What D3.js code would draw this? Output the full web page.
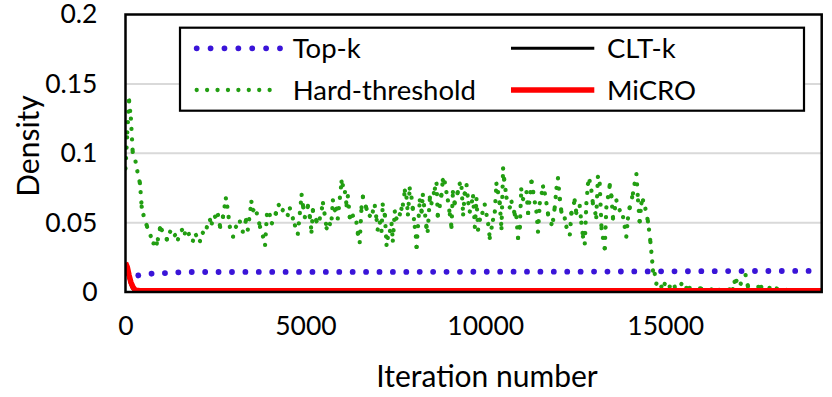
<!DOCTYPE html>
<html><head><meta charset="utf-8">
<script src="https://cdn.jsdelivr.net/npm/d3@7"></script>
<style>body{margin:0;background:#fff} text{font-family:Lato, "Open Sans", sans-serif; fill:#000}</style>
</head><body><svg id="c" width="832" height="397"></svg>
<script>
// ---------- data ----------
const xTicks = [0, 5000, 10000, 15000];
const yTicks = [0, 0.05, 0.1, 0.15, 0.2];
const yTickLabels = ["0", "0.05", "0.1", "0.15", "0.2"];
const xTitle = "Iteration number";
const yTitle = "Density";
const seriesNames = ["Top-k", "CLT-k", "Hard-threshold", "MiCRO"];

const topkIter = [0, 80, 260, 600, 960, 1300, 1700, 2500, 5000, 8000, 10000, 13000, 15000, 17000, 19350];
const topkVal  = [0.0139, 0.013, 0.0115, 0.013, 0.0135, 0.0139, 0.0144, 0.0144, 0.0145, 0.0145, 0.0146, 0.0147, 0.0149, 0.0151, 0.0152];

const cltIter = [0, 50, 100, 150, 200, 250, 300, 400, 19350];
const cltVal  = [0.02, 0.016, 0.011, 0.006, 0.003, 0.0015, 0.0008, 0.0005, 0.0005];

const microIter = [0, 50, 100, 150, 200, 250, 300, 400, 19350];
const microVal  = [0.021, 0.018, 0.012, 0.007, 0.004, 0.002, 0.0012, 0.0009, 0.0009];

const hardIter = [0,50,100,150,200,280,330,400,420,450,500,600,700,780,870,900,960,1010,1150,1240,1375,1460,1570,1650,1760,1875,1960,2070,2150,2260,2350,2400,2490,2570,2630,2710,2790,2830,2900,2990,3070,3180,3260,3350,3400,3500,3550,3650,3740,3820,3880,3930,4010,4070,4180,4260,4370,4510,4570,4710,4790,4895,4940,4985,5070,5125,5170,5210,5310,5400,5490,5590,5680,5730,5765,5820,5865,5900,6005,6040,6100,6145,6180,6235,6320,6420,6460,6510,6560,6600,6700,6790,6875,6930,6980,7010,7070,7115,7150,7210,7255,7290,7350,7395,7430,7485,7530,7625,7670,7710,7765,7810,7850,7900,7950,7985,8040,8070,8090,8180,8230,8265,8365,8400,8460,8505,8600,8645,8680,8735,8780,8820,8875,8920,8960,9015,9060,9100,9150,9235,9290,9340,9385,9430,9480,9530,9570,9660,9710,9755,9800,9850,9920,9985,10080,10125,10215,10265,10310,10355,10400,10450,10495,10525,10590,10680,10730,10820,10865,10910,10960,11000,11050,11145,11190,11285,11330,11420,11465,11515,11605,11655,11700,11745,11840,11885,11930,11980,12020,12070,12115,12210,12255,12350,12395,12485,12530,12625,12670,12715,12765,12810,12855,12900,12950,12990,13085,13130,13180,13230,13270,13320,13365,13460,13505,13550,13645,13735,13830,13875,13920,13965,14015,14105,14150,14200,14245,14290,14340,14385,14450,14520,14550,14590,14615,14640,14660,14710,14755,14895,14985,15125,15265,15450,15590,15680,16000,16500,16880,16930,16980,17100,17235,17300,17670,17900,18100,18500,19000,19350];
const hardVal = [0.089,0.115,0.138,0.125,0.101,0.094,0.087,0.0785,0.072,0.0615,0.0555,0.047,0.0404,0.035,0.035,0.038,0.0459,0.0447,0.038,0.0434,0.041,0.038,0.0447,0.0423,0.0418,0.037,0.041,0.0368,0.0427,0.0466,0.0519,0.0495,0.0543,0.0555,0.047,0.0543,0.0675,0.0615,0.047,0.0399,0.047,0.0507,0.0435,0.0519,0.045,0.065,0.059,0.0567,0.047,0.040,0.034,0.0555,0.0555,0.0495,0.0567,0.0627,0.059,0.0555,0.0603,0.048,0.042,0.070,0.061,0.054,0.062,0.054,0.0435,0.059,0.051,0.053,0.064,0.046,0.049,0.053,0.066,0.059,0.060,0.053,0.0795,0.077,0.072,0.0625,0.069,0.054,0.055,0.050,0.042,0.036,0.061,0.0687,0.060,0.055,0.058,0.062,0.052,0.045,0.050,0.044,0.063,0.055,0.034,0.039,0.044,0.049,0.037,0.058,0.053,0.056,0.060,0.063,0.073,0.068,0.056,0.0746,0.068,0.060,0.047,0.040,0.0325,0.066,0.058,0.070,0.047,0.044,0.068,0.064,0.0745,0.078,0.055,0.062,0.070,0.0807,0.079,0.072,0.066,0.056,0.047,0.072,0.064,0.072,0.078,0.075,0.056,0.071,0.077,0.064,0.058,0.069,0.047,0.067,0.045,0.052,0.057,0.063,0.049,0.039,0.052,0.058,0.078,0.072,0.064,0.046,0.089,0.081,0.068,0.061,0.065,0.056,0.054,0.039,0.047,0.074,0.067,0.072,0.057,0.0795,0.072,0.058,0.0435,0.064,0.076,0.071,0.064,0.056,0.049,0.052,0.061,0.075,0.082,0.067,0.058,0.053,0.047,0.0415,0.057,0.066,0.057,0.062,0.050,0.040,0.035,0.064,0.078,0.080,0.073,0.064,0.054,0.083,0.078,0.046,0.039,0.0315,0.061,0.077,0.069,0.053,0.066,0.059,0.054,0.047,0.040,0.053,0.061,0.071,0.078,0.085,0.066,0.051,0.064,0.066,0.060,0.051,0.045,0.036,0.029,0.022,0.0155,0.013,0.006,0.0038,0.0058,0.0038,0.0038,0.0058,0.003,0.003,0.0025,0.0015,0.002,0.0074,0.008,0.006,0.0122,0.004,0.0036,0.003,0.0025,0.001,0.001,0.001];

// ---------- chart ----------
const svg = d3.select("#c");
const X0 = 125.5, X1 = 821.7, Y0 = 292, Y1 = 14.5;
const x = d3.scaleLinear().domain([0, 19350]).range([X0, X1]);
const y = d3.scaleLinear().domain([0, 0.2]).range([Y0, Y1]);

svg.append("clipPath").attr("id", "clip").append("rect")
  .attr("x", X0).attr("y", Y1).attr("width", X1 - X0).attr("height", Y0 - Y1);

// gridlines
svg.append("g").selectAll("line").data(yTicks.filter(t => t > 0 && t < 0.2)).join("line")
  .attr("x1", X0).attr("x2", X1).attr("y1", d => y(d)).attr("y2", d => y(d))
  .attr("stroke", "#d9d9d9").attr("stroke-width", 2);

// y axis labels
const yAxis = d3.axisLeft(y).tickValues(yTicks).tickFormat((d, i) => yTickLabels[i]).tickSize(0).tickPadding(28);
const gy = svg.append("g").attr("transform", `translate(${X0},0)`).call(yAxis);
gy.select(".domain").remove();
gy.selectAll("text").style("font-size", "26.5px").style("font-family", "Lato").attr("fill", "#000");

// x axis labels
const xAxis = d3.axisBottom(x).tickValues(xTicks).tickFormat(d3.format("d")).tickSize(0).tickPadding(24);
const gx = svg.append("g").attr("transform", `translate(0,${Y0})`).call(xAxis);
gx.select(".domain").remove();
gx.selectAll("text").style("font-size", "26.5px").style("font-family", "Lato").attr("fill", "#000");

// titles
svg.append("text").attr("x", 487).attr("y", 387).attr("text-anchor", "middle")
  .style("font-size", "30px").text(xTitle);
svg.append("text").attr("transform", "translate(39,146) rotate(-90)").attr("text-anchor", "middle")
  .style("font-size", "30px").text(yTitle);

const line = d3.line().x(d => x(d[0])).y(d => y(d[1]));
const plot = svg.append("g").attr("clip-path", "url(#clip)");

// Top-k
plot.append("path").datum(d3.zip(topkIter, topkVal)).attr("d", line)
  .attr("fill", "none").attr("stroke", "#3a14d8").attr("stroke-width", 5.8)
  .attr("stroke-linecap", "round").attr("stroke-dasharray", "0.01 13.4");
// CLT-k
plot.append("path").datum(d3.zip(cltIter, cltVal)).attr("d", line)
  .attr("fill", "none").attr("stroke", "#000").attr("stroke-width", 4);
// Hard-threshold: round-dot pattern restarts on each segment
const hardPts = d3.zip(hardIter, hardVal);
plot.append("g").selectAll("path").data(d3.pairs(hardPts)).join("path")
  .attr("d", d => line(d))
  .attr("fill", "none").attr("stroke", "#229e12").attr("stroke-width", 4.3)
  .attr("stroke-linecap", "round").attr("stroke-dasharray", "0.01 10.4");
// MiCRO
plot.append("path").datum(d3.zip(microIter, microVal)).attr("d", line)
  .attr("fill", "none").attr("stroke", "#ff0000").attr("stroke-width", 5.5)
  .attr("stroke-linejoin", "round");

// frame
svg.append("rect").attr("x", X0).attr("y", Y1).attr("width", X1 - X0).attr("height", Y0 - Y1)
  .attr("fill", "none").attr("stroke", "#000").attr("stroke-width", 2.5);

// legend
const lg = svg.append("g");
lg.append("rect").attr("x", 180).attr("y", 27.7).attr("width", 624).attr("height", 83)
  .attr("fill", "#fff").attr("stroke", "#000").attr("stroke-width", 2.2);
const legendItems = [
  {name: seriesNames[0], col: 0, row: 0, stroke: "#3a14d8", w: 5.8, dash: "0.01 13.87", cap: "round"},
  {name: seriesNames[1], col: 1, row: 0, stroke: "#000", w: 3, dash: null, cap: "butt"},
  {name: seriesNames[2], col: 0, row: 1, stroke: "#229e12", w: 4.3, dash: "0.01 10.41", cap: "round"},
  {name: seriesNames[3], col: 1, row: 1, stroke: "#ff0000", w: 5.5, dash: null, cap: "butt"}
];
const colX = [196.7, 511];
const rowY = [48.3, 90];
legendItems.forEach(it => {
  const lx = colX[it.col], ly = rowY[it.row];
  const p = lg.append("line").attr("x1", lx).attr("x2", lx + 83.3).attr("y1", ly).attr("y2", ly)
    .attr("stroke", it.stroke).attr("stroke-width", it.w).attr("stroke-linecap", it.cap);
  if (it.dash) p.attr("stroke-dasharray", it.dash);
  lg.append("text").attr("x", lx + 96).attr("y", ly).attr("dy", "0.35em")
    .style("font-size", "27.5px").text(it.name);
});
</script>
</body></html>
